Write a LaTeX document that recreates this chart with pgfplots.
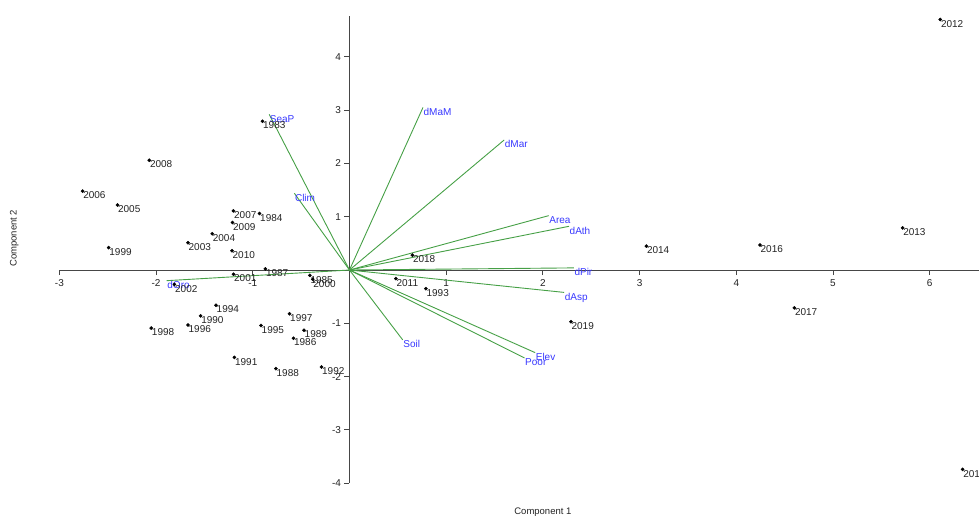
\documentclass[border=0pt]{standalone}
\usepackage{pgfplots}
\pgfplotsset{compat=1.18}
\usepackage{pgfplotstable}
\usepackage{fontspec}
\setmainfont{Liberation Sans}
\definecolor{vecgreen}{RGB}{70,160,70}
\definecolor{lblblue}{RGB}{55,55,255}
\definecolor{txtgray}{RGB}{35,35,35}
\definecolor{axgray}{RGB}{70,70,70}

\pgfplotstableread{
x y label
6.11 4.70 2012
6.34 -3.74 2015
5.72 0.79 2013
4.245 0.47 2016
3.07 0.45 2014
4.60 -0.71 2017
2.29 -0.97 2019
0.65 0.28 2018
0.48 -0.16 2011
0.79 -0.35 1993
-0.90 2.79 1983
-2.07 2.06 2008
-2.76 1.48 2006
-2.40 1.22 2005
-2.49 0.42 1999
-1.67 0.51 2003
-1.42 0.68 2004
-1.20 1.11 2007
-0.93 1.06 1984
-1.21 0.89 2009
-1.215 0.36 2010
-0.87 0.02 1987
-1.20 -0.08 2001
-0.41 -0.10 1985
-0.38 -0.175 2000
-1.81 -0.27 2002
-1.38 -0.66 1994
-1.54 -0.86 1990
-1.67 -1.03 1996
-2.05 -1.09 1998
-0.915 -1.04 1995
-0.62 -0.82 1997
-0.47 -1.13 1989
-0.58 -1.28 1986
-1.19 -1.64 1991
-0.76 -1.85 1988
-0.29 -1.82 1992
}\years

\pgfplotstableread{
x0 y0 u v name
0 0 0.76 3.05 dMaM
0 0 1.60 2.44 dMar
0 0 2.06 1.02 Area
0 0 2.27 0.82 dAth
0 0 2.32 0.04 dPir
0 0 2.22 -0.42 dAsp
0 0 1.92 -1.55 Elev
0 0 1.81 -1.65 Poor
0 0 0.55 -1.31 Soil
0 0 -0.83 2.92 SeaP
0 0 -0.57 1.44 Clim
0 0 -1.89 -0.20 dOro
}\vecs

\begin{document}
\begin{tikzpicture}
\begin{axis}[
  x=96.7pt, y=53.3pt,
  xmin=-3, xmax=7, ymin=-4, ymax=4.77,
  axis lines=middle,
  axis line style={axgray, line width=1pt, -},
  tick align=outside,
  major tick length=5pt,
  tick style={axgray, line width=0.9pt},
  xtick={-3,-2,-1,1,2,3,4,5,6},
  ytick={-4,-3,-2,-1,1,2,3,4},
  /pgf/number format/assume math mode=true,
  tick label style={font=\fontsize{10}{11}\selectfont, text=txtgray},
  xticklabel style={yshift=-1pt},
  xlabel={Component 1},
  ylabel={Component 2},
  xlabel style={at={(axis description cs:0.5,0)}, anchor=center, yshift=-28.7pt, font=\fontsize{9.5}{10}\selectfont, text=txtgray},
  ylabel style={at={(axis description cs:-0.0465,0.524)}, anchor=center, rotate=90, font=\fontsize{9.5}{10}\selectfont, text=txtgray},
  clip=false,
]
\addplot[vecgreen, line width=0.9pt, quiver={u=\thisrow{u}, v=\thisrow{v}}, mark=none]
  table[x=x0, y=y0]{\vecs};
\addplot[only marks, mark=none, nodes near coords, point meta=explicit symbolic,
  nodes near coords style={anchor=north west, inner sep=0.5pt, font=\fontsize{10}{11}\selectfont, text=lblblue}]
  table[x=u, y=v, meta=name]{\vecs};
\addplot[only marks, mark=*, mark size=1.6pt, black, nodes near coords, point meta=explicit symbolic,
  nodes near coords style={anchor=north west, inner sep=0.5pt, font=\fontsize{10}{11}\selectfont, text=txtgray}]
  table[x=x, y=y, meta=label]{\years};
\coordinate (bl) at (axis cs:-3.614,-4.653);
\coordinate (tr) at (axis cs:6.51,5.066);
\end{axis}
\pgfresetboundingbox
\path[use as bounding box] (bl) rectangle (tr);
\end{tikzpicture}
\end{document}
